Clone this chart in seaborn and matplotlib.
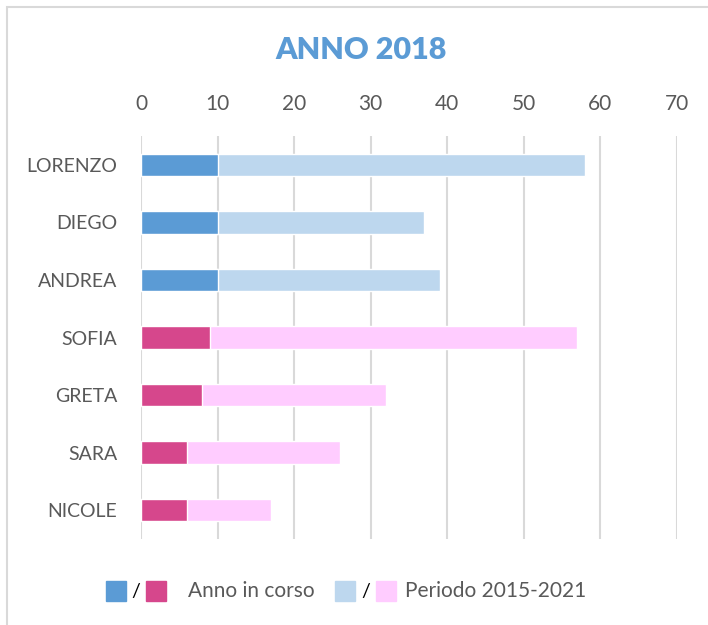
import matplotlib.pyplot as plt
import seaborn as sns
import pandas as pd
from matplotlib.patches import Rectangle

# data
nomi = ['LORENZO', 'DIEGO', 'ANDREA', 'SOFIA', 'GRETA', 'SARA', 'NICOLE']
gruppo = ['M', 'M', 'M', 'F', 'F', 'F', 'F']
anno_in_corso = [10, 10, 10, 9, 8, 6, 6]
periodo = [58, 37, 39, 57, 32, 26, 17]
x_ticks = [0, 10, 20, 30, 40, 50, 60, 70]

scuro = {'M': '#5B9BD5', 'F': '#D6478C'}
chiaro = {'M': '#BDD7EE', 'F': '#FFCCFF'}
grigio = '#595959'

df = pd.DataFrame({'nome': nomi, 'gruppo': gruppo,
                   'anno': anno_in_corso, 'periodo': periodo})

sns.set_style('white')
plt.rcParams['font.family'] = ['Lato', 'DejaVu Sans']

W, H = 708, 625
fig = plt.figure(figsize=(W / 100, H / 100), dpi=100)
ax = fig.add_axes([141 / W, 1 - 539 / H, 536 / W, 403 / H])

sns.barplot(data=df, y='nome', x='periodo', hue='gruppo', palette=chiaro,
            orient='h', width=0.39, dodge=False, legend=False, ax=ax,
            saturation=1, zorder=2)
sns.barplot(data=df, y='nome', x='anno', hue='gruppo', palette=scuro,
            orient='h', width=0.39, dodge=False, legend=False, ax=ax,
            saturation=1, zorder=3)

ax.set_xlim(0, 70)
ax.set_ylim(6.5, -0.5)
ax.set_xticks(x_ticks)
ax.xaxis.tick_top()
ax.set_xlabel('')
ax.set_ylabel('')
ax.grid(axis='x', color='#D9D9D9', linewidth=1.5, zorder=0)
ax.set_axisbelow(True)
for s in ax.spines.values():
    s.set_visible(False)
ax.tick_params(axis='x', length=0, pad=16, labelsize=15, labelcolor=grigio)
ax.tick_params(axis='y', length=0, pad=17, labelsize=14, labelcolor=grigio)

fig.text(361 / W, 1 - 50 / H, 'ANNO 2018', ha='center', va='center',
         fontsize=22, fontweight='heavy', color='#5B9BD5')

# chart frame
fig.patches.append(Rectangle((7 / W, -0.1), 1.2, 1 - 7 / H + 0.1,
                             transform=fig.transFigure, fill=False,
                             edgecolor='#D9D9D9', linewidth=1.5))

# legend
ly = 1 - 591 / H
def box(x0, col):
    fig.patches.append(Rectangle((x0 / W, ly - 10 / H), 20 / W, 20 / H,
                                 transform=fig.transFigure, color=col))

box(106, scuro['M'])
box(146, scuro['F'])
box(335, chiaro['M'])
box(376, chiaro['F'])
fig.text(136 / W, ly, '/', ha='center', va='center', fontsize=14, color='black')
fig.text(366 / W, ly, '/', ha='center', va='center', fontsize=14, color='black')
fig.text(188 / W, ly, 'Anno in corso', ha='left', va='center', fontsize=15, color=grigio)
fig.text(405 / W, ly, 'Periodo 2015-2021', ha='left', va='center', fontsize=15, color=grigio)

fig.savefig('out.png', dpi=100)
